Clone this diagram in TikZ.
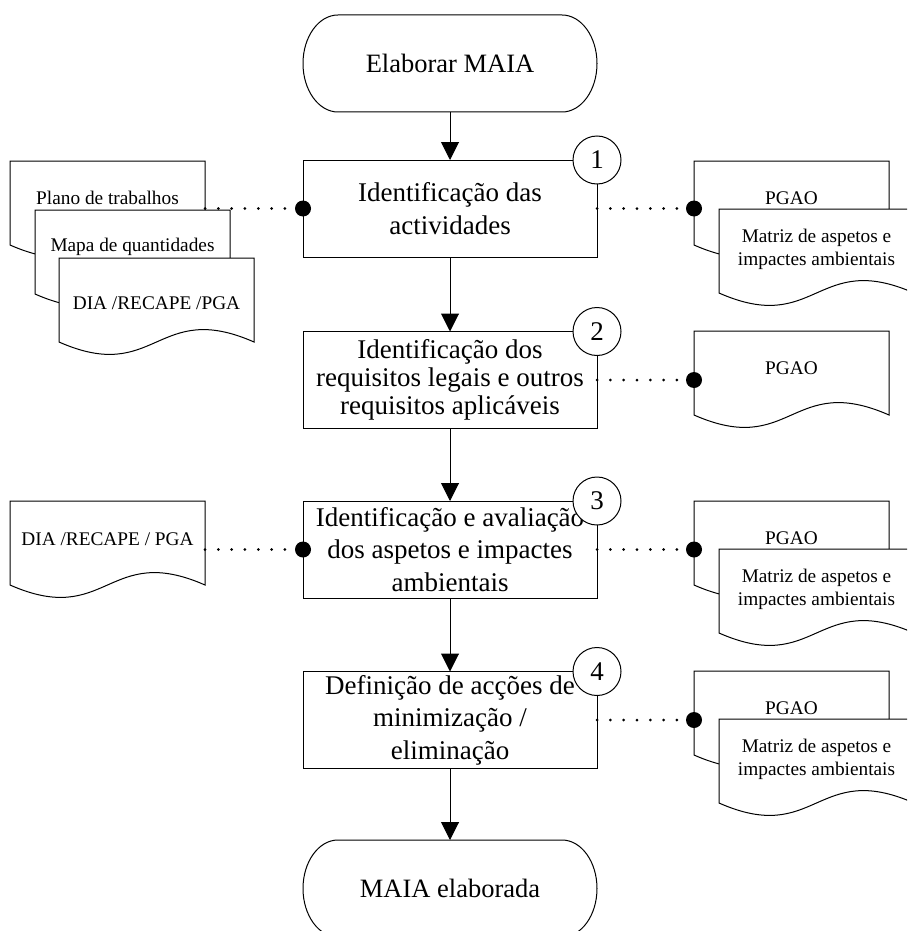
\documentclass[tikz,border=0pt]{standalone}
\usepackage{fontspec}
\setmainfont{Liberation Serif}
\usetikzlibrary{arrows.meta,calc}
\newcommand\docshape[1]{\draw[docline] (#1.south west) -- (#1.north west) -- (#1.north east) -- (#1.south east) .. controls ($(#1.south)+(0,-43)$) and ($(#1.south)+(0,43)$) .. (#1.south west) -- cycle;}
\newcommand\termshape[1]{\draw[lw] ([xshift=35pt]#1.north west) -- ([xshift=-35pt]#1.north east) arc[start angle=-90,end angle=90,x radius=35,y radius=48.5] -- ([xshift=35pt]#1.south west) arc[start angle=90,end angle=270,x radius=35,y radius=48.5] -- cycle;}
\begin{document}
\begin{tikzpicture}[x=1pt,y=-1pt,
 lw/.style={line width=1pt},
 termbox/.style={minimum width=294pt, minimum height=97pt, inner sep=0pt, outer sep=0pt, font=\fontsize{26.5}{30}\selectfont},
 procbox/.style={draw, line width=1pt, minimum width=294pt, minimum height=97pt, inner sep=0pt, outer sep=0pt, align=center, font=\fontsize{27}{32.5}\selectfont},
 docbox/.style={minimum width=195pt, minimum height=84pt, inner sep=0pt, outer sep=0pt},
 doctext/.style={font=\fontsize{19.3}{23}\selectfont, inner sep=0pt, align=center},
 numcirc/.style={draw, circle, fill=white, line width=1pt, minimum size=48pt, inner sep=0pt, font=\fontsize{27}{28}\selectfont},
 arr/.style={line width=1pt, -{Triangle[width=18pt,length=18pt]}},
 dotline/.style={line width=3pt, line cap=round, dash pattern=on 0pt off 13.33pt},
 docline/.style={line width=1pt, fill=white, line join=miter},
 bigdot/.style={fill=black}
]
\useasboundingbox (0,0) rectangle (907,931);
\clip (0,0) rectangle (907,931);

% terminals
\node[termbox] (t0) at (450,63.5) {Elaborar MAIA};
\termshape{t0}
\node[termbox] (t1) at (450,888.5) {MAIA elaborada};
\termshape{t1}

% process boxes
\node[procbox] (b1) at (450,208.5) {Identificação das\\actividades};
\node[procbox, font=\fontsize{27}{28.3}\selectfont] (b2) at (450,380) {Identificação dos\\requisitos legais e outros\\requisitos aplicáveis};
\node[procbox] (b3) at (450,549.5) {Identificação e avaliação\\dos aspetos e impactes\\ambientais};
\node[procbox] (b4) at (450,720) {Definição de acções de\\minimização /\\eliminação};

% arrows
\draw[arr] (t0.south) -- (b1.north);
\draw[arr] (b1.south) -- (b2.north);
\draw[arr] (b2.south) -- (b3.north);
\draw[arr] (b3.south) -- (b4.north);
\draw[arr] (b4.south) -- (t1.north);

% number circles
\node[numcirc] (c1) at (b1.north east) {1};
\node[numcirc] (c2) at (b2.north east) {2};
\node[numcirc] (c3) at (b3.north east) {3};
\node[numcirc] (c4) at (b4.north east) {4};

% left documents, step 1
\node[docbox] (dA) at (107.5,203) {};
\docshape{dA}
\node[doctext, anchor=base] (tA) at (107.5,204) {Plano de trabalhos};
\node[docbox] (dB) at (132.5,252) {};
\docshape{dB}
\node[doctext, anchor=base] (tB) at (132.5,251.7) {Mapa de quantidades};
\node[docbox] (dC) at (156.5,300) {};
\docshape{dC}
\node[doctext, anchor=base] (tC) at (156.5,309.3) {DIA /RECAPE /PGA};

% left document, step 3
\node[docbox] (dL3) at (107.5,543) {};
\docshape{dL3}
\node[doctext, anchor=base] (tL3) at (107.5,545) {DIA /RECAPE / PGA};

% right documents, step 1
\node[docbox] (dR1a) at (791.5,203) {};
\docshape{dR1a}
\node[doctext, anchor=base] (tR1a) at (791.5,204.3) {PGAO};
\node[docbox] (dR1b) at (816.5,251) {};
\docshape{dR1b}
\node[doctext] (tR1b) at (816.5,249) {Matriz de aspetos e\\impactes ambientais};

% right document, step 2
\node[docbox] (dR2) at (791.5,373) {};
\docshape{dR2}
\node[doctext, anchor=base] (tR2) at (791.5,374.3) {PGAO};

% right documents, step 3
\node[docbox] (dR3a) at (791.5,543) {};
\docshape{dR3a}
\node[doctext, anchor=base] (tR3a) at (791.5,544.3) {PGAO};
\node[docbox] (dR3b) at (816.5,591) {};
\docshape{dR3b}
\node[doctext] (tR3b) at (816.5,589) {Matriz de aspetos e\\impactes ambientais};

% right documents, step 4
\node[docbox] (dR4a) at (791.5,713) {};
\docshape{dR4a}
\node[doctext, anchor=base] (tR4a) at (791.5,714.3) {PGAO};
\node[docbox] (dR4b) at (816.5,761) {};
\docshape{dR4b}
\node[doctext] (tR4b) at (816.5,759) {Matriz de aspetos e\\impactes ambientais};

% dotted connectors
\draw[dotline] (b1.west -| dA.east) -- (b1.west);
\fill[bigdot] (b1.west) circle[radius=8];
\draw[dotline] (b3.west -| dL3.east) -- (b3.west);
\fill[bigdot] (b3.west) circle[radius=8];

\draw[dotline] (b1.east) -- (b1.east -| dR1a.west);
\fill[bigdot] (b1.east -| dR1a.west) circle[radius=8];
\draw[dotline] (b2.east) -- (b2.east -| dR2.west);
\fill[bigdot] (b2.east -| dR2.west) circle[radius=8];
\draw[dotline] (b3.east) -- (b3.east -| dR3a.west);
\fill[bigdot] (b3.east -| dR3a.west) circle[radius=8];
\draw[dotline] (b4.east) -- (b4.east -| dR4a.west);
\fill[bigdot] (b4.east -| dR4a.west) circle[radius=8];
\end{tikzpicture}
\end{document}
